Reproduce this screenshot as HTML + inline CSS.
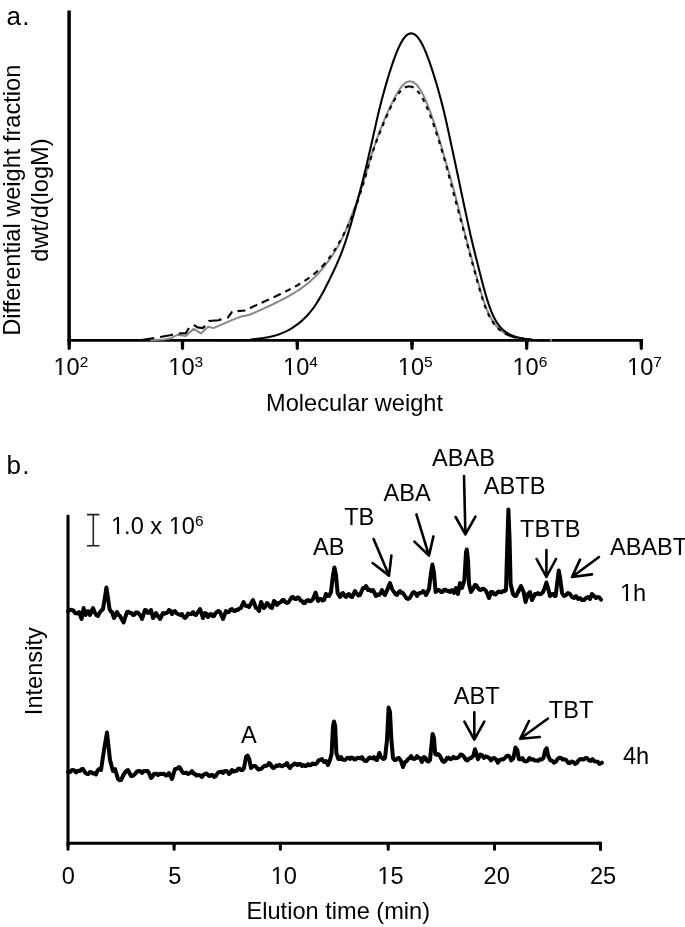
<!DOCTYPE html>
<html><head><meta charset="utf-8"><style>
html,body{margin:0;padding:0;background:#fff;}
svg{display:block;font-family:"Liberation Sans",sans-serif;will-change:transform;}
text{fill:#000;}
</style></head><body>
<svg width="685" height="927" viewBox="0 0 685 927">
<path d="M69.1,10.5 V340.3" stroke="#000" stroke-width="3.5" fill="none"/>
<path d="M67.6,340.3 H642.9" stroke="#000" stroke-width="2.8" fill="none"/>
<path d="M69.2,340.3 V348.3" stroke="#000" stroke-width="3.2" fill="none" stroke-linecap="round"/>
<path d="M69.2,340.3 V345" stroke="#000" stroke-width="3.2" fill="none"/>
<path d="M182.5,340.3 V348.3" stroke="#000" stroke-width="3.2" fill="none" stroke-linecap="round"/>
<path d="M182.5,340.3 V345" stroke="#000" stroke-width="3.2" fill="none"/>
<path d="M297.3,340.3 V348.3" stroke="#000" stroke-width="3.2" fill="none" stroke-linecap="round"/>
<path d="M297.3,340.3 V345" stroke="#000" stroke-width="3.2" fill="none"/>
<path d="M412.0,340.3 V348.3" stroke="#000" stroke-width="3.2" fill="none" stroke-linecap="round"/>
<path d="M412.0,340.3 V345" stroke="#000" stroke-width="3.2" fill="none"/>
<path d="M526.7,340.3 V348.3" stroke="#000" stroke-width="3.2" fill="none" stroke-linecap="round"/>
<path d="M526.7,340.3 V345" stroke="#000" stroke-width="3.2" fill="none"/>
<path d="M641.3,340.3 V348.3" stroke="#000" stroke-width="3.2" fill="none" stroke-linecap="round"/>
<path d="M641.3,340.3 V345" stroke="#000" stroke-width="3.2" fill="none"/>
<path d="M150.00,340.30 L164.00,339.50 L170.00,338.60 L177.90,334.70 L185.80,336.00 L193.70,328.80 L200.90,333.40 L208.10,326.80 L213.40,328.10 L222.60,324.20 L233.10,319.60 L241.00,316.60 L248.81,315.05 L250.34,314.40 L251.86,313.75 L253.37,313.11 L254.87,312.46 L256.36,311.81 L257.83,311.16 L259.30,310.51 L260.76,309.87 L262.20,309.22 L263.63,308.57 L265.06,307.93 L266.47,307.28 L267.87,306.63 L269.26,305.98 L270.63,305.34 L272.00,304.69 L273.35,304.04 L274.69,303.39 L276.01,302.75 L277.32,302.10 L278.62,301.45 L279.90,300.80 L281.17,300.16 L282.42,299.51 L283.66,298.86 L284.88,298.21 L286.08,297.56 L287.26,296.92 L288.43,296.27 L289.58,295.62 L290.71,294.98 L291.82,294.33 L292.92,293.68 L293.99,293.03 L295.05,292.38 L296.08,291.74 L297.10,291.09 L298.10,290.44 L299.07,289.80 L300.03,289.15 L300.97,288.50 L301.89,287.85 L302.79,287.21 L303.68,286.56 L304.54,285.91 L305.39,285.26 L306.22,284.62 L307.03,283.97 L307.83,283.32 L308.61,282.67 L309.37,282.03 L310.12,281.38 L310.86,280.73 L311.58,280.08 L312.28,279.44 L312.98,278.79 L313.66,278.14 L314.33,277.49 L314.99,276.85 L315.63,276.20 L316.27,275.55 L316.89,274.90 L317.51,274.25 L318.11,273.61 L318.71,272.96 L319.30,272.31 L319.87,271.67 L320.44,271.02 L321.01,270.37 L321.56,269.72 L322.11,269.07 L322.65,268.43 L323.18,267.78 L323.71,267.13 L324.23,266.49 L324.74,265.84 L325.25,265.19 L325.75,264.54 L326.24,263.89 L326.73,263.25 L327.22,262.60 L327.70,261.95 L328.17,261.31 L328.64,260.66 L329.10,260.01 L329.56,259.36 L330.02,258.72 L330.47,258.07 L330.91,257.42 L331.35,256.77 L331.79,256.12 L332.22,255.48 L332.65,254.83 L333.08,254.18 L333.50,253.54 L333.91,252.89 L334.33,252.24 L334.73,251.59 L335.14,250.95 L335.54,250.30 L335.93,249.65 L336.33,249.00 L336.71,248.36 L337.10,247.71 L337.47,247.06 L337.85,246.41 L338.22,245.77 L338.58,245.12 L338.95,244.47 L339.30,243.82 L339.65,243.18 L340.00,242.53 L340.35,241.88 L340.68,241.23 L341.02,240.59 L341.35,239.94 L341.68,239.29 L342.00,238.64 L342.31,238.00 L342.63,237.35 L342.94,236.70 L343.24,236.05 L343.54,235.41 L343.84,234.76 L344.14,234.11 L344.43,233.46 L344.72,232.81 L345.00,232.17 L345.28,231.52 L345.56,230.87 L345.84,230.23 L346.11,229.58 L346.38,228.93 L346.65,228.28 L346.92,227.63 L347.18,226.99 L347.45,226.34 L347.71,225.69 L347.97,225.05 L348.23,224.40 L348.49,223.75 L348.74,223.10 L349.00,222.46 L349.26,221.81 L349.51,221.16 L349.76,220.51 L350.01,219.87 L350.27,219.22 L350.52,218.57 L350.77,217.92 L351.02,217.28 L351.27,216.63 L351.52,215.98 L351.76,215.33 L352.01,214.69 L352.26,214.04 L352.50,213.39 L352.75,212.74 L353.00,212.09 L353.24,211.45 L353.48,210.80 L353.73,210.15 L353.97,209.51 L354.21,208.86 L354.45,208.21 L354.69,207.56 L354.93,206.92 L355.17,206.27 L355.41,205.62 L355.65,204.97 L355.89,204.33 L356.12,203.68 L356.36,203.03 L356.59,202.38 L356.82,201.74 L357.05,201.09 L357.28,200.44 L357.51,199.79 L357.74,199.15 L357.97,198.50 L358.20,197.85 L358.42,197.20 L358.65,196.56 L358.87,195.91 L359.09,195.26 L359.31,194.61 L359.53,193.97 L359.75,193.32 L359.97,192.67 L360.19,192.02 L360.40,191.38 L360.62,190.73 L360.83,190.08 L361.04,189.43 L361.25,188.79 L361.46,188.14 L361.67,187.49 L361.88,186.84 L362.09,186.20 L362.29,185.55 L362.50,184.90 L362.70,184.25 L362.91,183.61 L363.11,182.96 L363.31,182.31 L363.51,181.66 L363.71,181.02 L363.91,180.37 L364.11,179.72 L364.30,179.07 L364.50,178.43 L364.70,177.78 L364.89,177.13 L365.09,176.48 L365.28,175.84 L365.48,175.19 L365.67,174.54 L365.87,173.89 L366.06,173.25 L366.26,172.60 L366.45,171.95 L366.64,171.30 L366.83,170.66 L367.03,170.01 L367.22,169.36 L367.41,168.71 L367.61,168.06 L367.80,167.42 L367.99,166.77 L368.19,166.12 L368.38,165.47 L368.58,164.83 L368.77,164.18 L368.96,163.53 L369.16,162.88 L369.36,162.24 L369.55,161.59 L369.75,160.94 L369.94,160.30 L370.14,159.65 L370.34,159.00 L370.54,158.35 L370.74,157.71 L370.94,157.06 L371.14,156.41 L371.34,155.76 L371.54,155.12 L371.74,154.47 L371.94,153.82 L372.15,153.17 L372.35,152.53 L372.56,151.88 L372.77,151.23 L372.97,150.58 L373.18,149.94 L373.39,149.29 L373.60,148.64 L373.81,147.99 L374.03,147.34 L374.24,146.70 L374.46,146.05 L374.67,145.40 L374.89,144.76 L375.11,144.11 L375.33,143.46 L375.55,142.81 L375.77,142.17 L376.00,141.52 L376.22,140.87 L376.45,140.22 L376.68,139.58 L376.91,138.93 L377.14,138.28 L377.37,137.63 L377.61,136.99 L377.84,136.34 L378.08,135.69 L378.32,135.04 L378.56,134.40 L378.80,133.75 L379.04,133.10 L379.29,132.45 L379.54,131.81 L379.78,131.16 L380.03,130.51 L380.28,129.86 L380.53,129.22 L380.79,128.57 L381.04,127.92 L381.30,127.27 L381.56,126.63 L381.82,125.98 L382.08,125.33 L382.34,124.68 L382.61,124.04 L382.87,123.39 L383.14,122.74 L383.41,122.09 L383.68,121.45 L383.95,120.80 L384.22,120.15 L384.50,119.50 L384.78,118.86 L385.05,118.21 L385.33,117.56 L385.61,116.91 L385.90,116.27 L386.18,115.62 L386.47,114.97 L386.75,114.32 L387.04,113.68 L387.33,113.03 L387.63,112.38 L387.92,111.73 L388.21,111.09 L388.51,110.44 L388.81,109.79 L389.11,109.14 L389.41,108.50 L389.71,107.85 L390.02,107.20 L390.33,106.55 L390.63,105.91 L390.94,105.26 L391.26,104.61 L391.57,103.96 L391.89,103.31 L392.21,102.67 L392.53,102.02 L392.85,101.37 L393.17,100.72 L393.50,100.08 L393.83,99.43 L394.17,98.78 L394.50,98.13 L394.85,97.49 L395.19,96.84 L395.54,96.19 L395.89,95.55 L396.25,94.90 L396.61,94.25 L396.98,93.60 L397.36,92.96 L397.74,92.31 L398.13,91.66 L398.54,91.01 L398.95,90.37 L399.37,89.72 L399.80,89.07 L400.26,88.42 L400.73,87.78 L401.22,87.13 L401.73,86.48 L402.27,85.83 L402.86,85.19 L403.49,84.54 L404.18,83.89 L404.97,83.24 L405.89,82.60 L407.10,81.95 L410.00,81.30 L412.82,81.95 L414.00,82.60 L414.90,83.24 L415.66,83.89 L416.33,84.54 L416.94,85.19 L417.50,85.83 L418.02,86.48 L418.52,87.13 L418.98,87.78 L419.43,88.42 L419.85,89.07 L420.26,89.72 L420.66,90.37 L421.04,91.01 L421.41,91.66 L421.77,92.31 L422.12,92.96 L422.46,93.60 L422.79,94.25 L423.12,94.90 L423.44,95.55 L423.75,96.19 L424.06,96.84 L424.36,97.49 L424.66,98.13 L424.95,98.78 L425.23,99.43 L425.52,100.08 L425.80,100.72 L426.07,101.37 L426.35,102.02 L426.62,102.67 L426.88,103.31 L427.15,103.96 L427.41,104.61 L427.67,105.26 L427.93,105.91 L428.18,106.55 L428.43,107.20 L428.68,107.85 L428.93,108.50 L429.18,109.14 L429.42,109.79 L429.67,110.44 L429.91,111.09 L430.15,111.73 L430.39,112.38 L430.63,113.03 L430.86,113.68 L431.10,114.32 L431.33,114.97 L431.56,115.62 L431.79,116.27 L432.02,116.91 L432.25,117.56 L432.48,118.21 L432.70,118.86 L432.93,119.50 L433.15,120.15 L433.37,120.80 L433.59,121.45 L433.81,122.09 L434.03,122.74 L434.25,123.39 L434.46,124.04 L434.67,124.68 L434.89,125.33 L435.10,125.98 L435.31,126.63 L435.52,127.27 L435.73,127.92 L435.94,128.57 L436.14,129.22 L436.35,129.86 L436.55,130.51 L436.75,131.16 L436.95,131.81 L437.16,132.45 L437.36,133.10 L437.55,133.75 L437.75,134.40 L437.95,135.04 L438.15,135.69 L438.34,136.34 L438.54,136.99 L438.73,137.63 L438.92,138.28 L439.12,138.93 L439.31,139.58 L439.50,140.22 L439.69,140.87 L439.89,141.52 L440.08,142.17 L440.27,142.81 L440.46,143.46 L440.65,144.11 L440.84,144.76 L441.03,145.40 L441.21,146.05 L441.40,146.70 L441.59,147.34 L441.78,147.99 L441.97,148.64 L442.16,149.29 L442.35,149.94 L442.53,150.58 L442.72,151.23 L442.91,151.88 L443.10,152.53 L443.29,153.17 L443.48,153.82 L443.66,154.47 L443.85,155.12 L444.04,155.76 L444.23,156.41 L444.42,157.06 L444.60,157.71 L444.79,158.35 L444.98,159.00 L445.17,159.65 L445.36,160.30 L445.55,160.94 L445.73,161.59 L445.92,162.24 L446.11,162.88 L446.30,163.53 L446.49,164.18 L446.68,164.83 L446.87,165.47 L447.06,166.12 L447.24,166.77 L447.43,167.42 L447.62,168.06 L447.81,168.71 L448.00,169.36 L448.19,170.01 L448.38,170.66 L448.57,171.30 L448.76,171.95 L448.94,172.60 L449.13,173.25 L449.32,173.89 L449.51,174.54 L449.69,175.19 L449.88,175.84 L450.07,176.48 L450.25,177.13 L450.44,177.78 L450.62,178.43 L450.81,179.07 L450.99,179.72 L451.18,180.37 L451.36,181.02 L451.54,181.66 L451.72,182.31 L451.90,182.96 L452.08,183.61 L452.26,184.25 L452.44,184.90 L452.62,185.55 L452.80,186.20 L452.97,186.84 L453.15,187.49 L453.32,188.14 L453.50,188.79 L453.67,189.43 L453.84,190.08 L454.02,190.73 L454.19,191.38 L454.36,192.02 L454.53,192.67 L454.70,193.32 L454.87,193.97 L455.03,194.61 L455.20,195.26 L455.37,195.91 L455.54,196.56 L455.70,197.20 L455.87,197.85 L456.03,198.50 L456.20,199.15 L456.36,199.79 L456.53,200.44 L456.69,201.09 L456.85,201.74 L457.02,202.38 L457.18,203.03 L457.34,203.68 L457.51,204.33 L457.67,204.97 L457.83,205.62 L457.99,206.27 L458.16,206.92 L458.32,207.56 L458.48,208.21 L458.64,208.86 L458.81,209.51 L458.97,210.15 L459.13,210.80 L459.29,211.45 L459.45,212.09 L459.62,212.74 L459.78,213.39 L459.94,214.04 L460.10,214.69 L460.27,215.33 L460.43,215.98 L460.59,216.63 L460.75,217.28 L460.92,217.92 L461.08,218.57 L461.24,219.22 L461.41,219.87 L461.57,220.51 L461.73,221.16 L461.90,221.81 L462.06,222.46 L462.23,223.10 L462.39,223.75 L462.55,224.40 L462.72,225.05 L462.88,225.69 L463.05,226.34 L463.21,226.99 L463.38,227.63 L463.55,228.28 L463.71,228.93 L463.88,229.58 L464.04,230.23 L464.21,230.87 L464.38,231.52 L464.55,232.17 L464.71,232.81 L464.88,233.46 L465.05,234.11 L465.22,234.76 L465.39,235.41 L465.55,236.05 L465.72,236.70 L465.89,237.35 L466.06,238.00 L466.23,238.64 L466.40,239.29 L466.57,239.94 L466.75,240.59 L466.92,241.23 L467.09,241.88 L467.26,242.53 L467.43,243.18 L467.61,243.82 L467.78,244.47 L467.95,245.12 L468.13,245.77 L468.30,246.41 L468.47,247.06 L468.65,247.71 L468.82,248.36 L469.00,249.00 L469.17,249.65 L469.35,250.30 L469.52,250.95 L469.70,251.59 L469.87,252.24 L470.05,252.89 L470.23,253.54 L470.40,254.18 L470.58,254.83 L470.76,255.48 L470.93,256.12 L471.11,256.77 L471.29,257.42 L471.46,258.07 L471.64,258.72 L471.82,259.36 L471.99,260.01 L472.17,260.66 L472.35,261.31 L472.52,261.95 L472.70,262.60 L472.88,263.25 L473.05,263.89 L473.23,264.54 L473.41,265.19 L473.58,265.84 L473.76,266.49 L473.94,267.13 L474.11,267.78 L474.29,268.43 L474.47,269.07 L474.64,269.72 L474.82,270.37 L475.00,271.02 L475.17,271.67 L475.35,272.31 L475.53,272.96 L475.71,273.61 L475.88,274.25 L476.06,274.90 L476.24,275.55 L476.42,276.20 L476.60,276.85 L476.77,277.49 L476.95,278.14 L477.13,278.79 L477.31,279.44 L477.49,280.08 L477.67,280.73 L477.85,281.38 L478.03,282.03 L478.22,282.67 L478.40,283.32 L478.58,283.97 L478.76,284.62 L478.95,285.26 L479.13,285.91 L479.31,286.56 L479.50,287.21 L479.69,287.85 L479.87,288.50 L480.06,289.15 L480.25,289.80 L480.44,290.44 L480.63,291.09 L480.82,291.74 L481.01,292.38 L481.21,293.03 L481.40,293.68 L481.60,294.33 L481.79,294.98 L481.99,295.62 L482.19,296.27 L482.40,296.92 L482.60,297.56 L482.81,298.21 L483.02,298.86 L483.23,299.51 L483.44,300.16 L483.66,300.80 L483.88,301.45 L484.10,302.10 L484.33,302.75 L484.55,303.39 L484.78,304.04 L485.02,304.69 L485.26,305.34 L485.50,305.98 L485.74,306.63 L485.99,307.28 L486.25,307.93 L486.50,308.57 L486.77,309.22 L487.03,309.87 L487.31,310.51 L487.58,311.16 L487.87,311.81 L488.16,312.46 L488.45,313.11 L488.75,313.75 L489.06,314.40 L489.37,315.05 L489.70,315.69 L490.03,316.34 L490.36,316.99 L490.71,317.64 L491.07,318.29 L491.43,318.93 L491.81,319.58 L492.20,320.23 L492.60,320.88 L493.01,321.52 L493.43,322.17 L493.88,322.82 L494.33,323.47 L494.81,324.11 L495.30,324.76 L495.82,325.41 L496.36,326.06 L496.92,326.70 L497.52,327.35 L498.14,328.00 L498.80,328.65 L499.49,329.29 L500.23,329.94 L501.02,330.59 L501.86,331.24 L502.77,331.88 L503.74,332.53 L504.80,333.18 L505.96,333.82 L507.24,334.47 L508.66,335.12 L510.26,335.77 L512.09,336.42 L514.23,337.06 L516.80,337.71 L520.05,338.36 L524.49,339.00 L535.00,340.20 L552.00,340.30" stroke="#888" stroke-width="2" fill="none" stroke-linejoin="round"/>
<path d="M409.20,86.30 L406.07,86.94 L404.81,87.55 M400.94,90.69 L400.89,90.75 L400.31,91.38 L399.76,92.02 L399.24,92.65 L398.75,93.28 L398.38,93.77 M395.62,97.93 L395.36,98.37 L394.98,99.00 L394.62,99.64 L394.26,100.27 L393.91,100.91 L393.64,101.41 M391.35,105.85 L391.29,105.99 L390.98,106.62 L390.67,107.26 L390.37,107.89 L390.07,108.53 L389.78,109.16 L389.63,109.47 M387.58,114.02 L387.49,114.24 L387.21,114.88 L386.93,115.51 L386.66,116.15 L386.38,116.78 L386.11,117.42 L385.99,117.69 M384.04,122.30 L383.95,122.50 L383.69,123.13 L383.42,123.77 L383.16,124.40 L382.89,125.03 L382.63,125.67 L382.49,125.99 M380.59,130.61 L380.54,130.75 L380.28,131.39 L380.02,132.02 L379.77,132.66 L379.51,133.29 L379.26,133.93 L379.10,134.32 M377.29,138.98 L377.28,139.01 L377.04,139.64 L376.80,140.28 L376.56,140.91 L376.33,141.55 L376.10,142.18 L375.90,142.73 M374.24,147.45 L374.08,147.90 L373.87,148.53 L373.66,149.17 L373.45,149.80 L373.24,150.44 L373.03,151.07 L372.97,151.24 M371.46,156.01 L371.42,156.15 L371.22,156.78 L371.03,157.42 L370.84,158.06 L370.64,158.69 L370.45,159.33 L370.30,159.84 M368.87,164.63 L368.75,165.04 L368.57,165.68 L368.38,166.31 L368.20,166.95 L368.01,167.58 L367.83,168.22 L367.75,168.47 M366.35,173.27 L366.35,173.30 L366.16,173.93 L365.98,174.57 L365.79,175.20 L365.61,175.84 L365.42,176.47 L365.23,177.11 L365.23,177.11 M363.81,181.90 L363.73,182.19 L363.54,182.82 L363.35,183.46 L363.15,184.09 L362.96,184.72 L362.77,185.36 L362.65,185.73 M361.17,190.51 L360.99,191.08 L360.79,191.71 L360.59,192.34 L360.39,192.98 L360.18,193.62 L359.98,194.25 L359.96,194.32 M358.41,199.07 L358.32,199.33 L358.11,199.97 L357.90,200.60 L357.69,201.24 L357.48,201.87 L357.26,202.51 L357.14,202.87 M355.51,207.59 L355.28,208.22 L355.06,208.86 L354.83,209.49 L354.59,210.13 L354.36,210.76 L354.14,211.35 M352.32,216.01 L352.13,216.48 L351.87,217.11 L351.61,217.75 L351.34,218.38 L351.07,219.02 L350.79,219.65 L350.77,219.70 M348.71,224.25 L348.48,224.73 L348.18,225.37 L347.88,226.00 L347.57,226.63 L347.26,227.27 L346.97,227.85 M344.71,232.31 L344.69,232.35 L344.36,232.99 L344.03,233.62 L343.70,234.25 L343.36,234.89 L343.02,235.53 L342.85,235.85 M340.45,240.24 L340.25,240.61 L339.89,241.24 L339.53,241.88 L339.17,242.51 L338.80,243.15 L338.47,243.72 M335.91,248.01 L335.78,248.23 L335.39,248.86 L334.99,249.50 L334.59,250.13 L334.18,250.77 L333.78,251.39 M330.98,255.54 L330.76,255.85 L330.31,256.48 L329.85,257.12 L329.38,257.75 L328.91,258.38 L328.62,258.77 M325.51,262.68 L325.38,262.83 L324.84,263.47 L324.29,264.10 L323.73,264.74 L323.16,265.37 L322.57,266.00 L321.98,266.64 L321.50,267.14 M317.93,270.64 L317.45,271.09 L316.75,271.72 L316.02,272.36 L315.29,272.99 L314.53,273.62 L313.76,274.26 L313.39,274.56 M309.41,277.59 L308.74,278.07 L307.84,278.71 L306.92,279.34 L305.97,279.98 L305.01,280.61 L304.45,280.97 M300.20,283.61 L299.91,283.79 L298.83,284.42 L297.73,285.06 L296.61,285.69 L295.48,286.32 L295.00,286.59 M290.59,288.95 L289.54,289.50 L288.31,290.13 L287.06,290.77 L285.80,291.41 L285.25,291.68 M280.76,293.88 L280.62,293.94 L279.30,294.58 L277.96,295.22 L276.62,295.85 L275.27,296.49 L273.91,297.12 L273.53,297.30 M268.99,299.40 L268.42,299.66 L267.04,300.30 L265.65,300.93 L264.26,301.56 L262.87,302.20 L261.71,302.73 M257.16,304.80 L255.90,305.38 L254.50,306.01 L253.11,306.64 L251.72,307.28 L250.33,307.92 L249.88,308.12 M245.34,310.20 L244.77,310.46 L237.42,311.08 M232.54,312.11 L231.80,312.30 L227.80,317.60 L227.21,317.69 M221.42,319.13 L218.60,320.20 L208.80,321.00 L208.71,321.12 M205.09,325.90 L202.80,328.10 L197.60,327.40 L193.79,324.86 M188.96,328.00 L185.80,333.10 L178.81,333.54 M172.92,334.67 L170.00,335.30 L160.13,336.98 M154.21,337.96 L148.00,339.00 L141.39,340.07 M409.20,86.30 L412.23,86.94 L413.48,87.57 L413.57,87.62 M417.35,90.87 L417.80,91.38 L418.32,92.02 L418.82,92.65 L419.30,93.28 L419.75,93.92 L419.81,94.01 M422.46,98.26 L422.52,98.37 L422.87,99.00 L423.22,99.64 L423.55,100.27 L423.88,100.91 L424.20,101.54 L424.33,101.79 M426.46,106.31 L426.59,106.62 L426.87,107.26 L427.15,107.89 L427.42,108.53 L427.69,109.16 L427.96,109.80 L428.04,109.99 M429.90,114.63 L429.99,114.88 L430.23,115.51 L430.48,116.15 L430.72,116.78 L430.96,117.42 L431.19,118.05 L431.31,118.37 M433.02,123.07 L433.04,123.13 L433.26,123.77 L433.48,124.40 L433.71,125.03 L433.93,125.67 L434.15,126.31 L434.34,126.85 M435.94,131.58 L436.08,132.02 L436.29,132.66 L436.50,133.29 L436.71,133.93 L436.92,134.56 L437.13,135.20 L437.19,135.38 M438.72,140.14 L438.76,140.28 L438.96,140.91 L439.16,141.55 L439.36,142.18 L439.56,142.82 L439.76,143.45 L439.92,143.96 M441.38,148.74 L441.51,149.17 L441.70,149.80 L441.90,150.44 L442.09,151.07 L442.28,151.71 L442.46,152.34 L442.53,152.57 M443.94,157.37 L443.95,157.42 L444.13,158.06 L444.32,158.69 L444.50,159.33 L444.68,159.96 L444.86,160.59 L445.03,161.22 M446.36,166.04 L446.44,166.31 L446.61,166.95 L446.78,167.58 L446.95,168.22 L447.12,168.85 L447.29,169.49 L447.40,169.90 M448.68,174.73 L448.80,175.20 L448.97,175.84 L449.13,176.47 L449.30,177.11 L449.47,177.74 L449.63,178.38 L449.69,178.60 M450.96,183.44 L450.97,183.46 L451.14,184.09 L451.30,184.72 L451.47,185.36 L451.64,186.00 L451.81,186.63 L451.98,187.27 L451.99,187.31 M453.29,192.13 L453.35,192.34 L453.52,192.98 L453.69,193.62 L453.86,194.25 L454.03,194.89 L454.20,195.52 L454.33,196.00 M455.64,200.82 L455.75,201.24 L455.92,201.87 L456.09,202.51 L456.26,203.14 L456.43,203.78 L456.60,204.41 L456.68,204.68 M457.97,209.52 L458.13,210.13 L458.30,210.76 L458.47,211.40 L458.64,212.03 L458.80,212.67 L458.97,213.30 L458.99,213.38 M460.28,218.21 L460.33,218.38 L460.49,219.02 L460.66,219.65 L460.83,220.29 L461.00,220.92 L461.17,221.56 L461.31,222.08 M462.60,226.91 L462.70,227.27 L462.87,227.91 L463.04,228.54 L463.21,229.18 L463.38,229.81 L463.55,230.44 L463.64,230.77 M464.93,235.60 L465.08,236.16 L465.25,236.80 L465.42,237.43 L465.59,238.06 L465.75,238.70 L465.92,239.34 L465.96,239.47 M467.25,244.30 L467.28,244.42 L467.45,245.05 L467.62,245.69 L467.79,246.32 L467.96,246.96 L468.14,247.59 L468.29,248.16 M469.60,252.99 L469.68,253.31 L469.86,253.94 L470.03,254.57 L470.20,255.21 L470.38,255.85 L470.55,256.48 L470.65,256.85 M471.97,261.67 L472.11,262.19 L472.29,262.83 L472.46,263.47 L472.63,264.10 L472.81,264.74 L472.98,265.37 L473.02,265.53 M474.34,270.35 L474.37,270.45 L474.54,271.09 L474.71,271.72 L474.89,272.36 L475.06,272.99 L475.23,273.62 L475.39,274.21 M476.72,279.03 L476.81,279.34 L476.98,279.98 L477.16,280.61 L477.34,281.25 L477.51,281.88 L477.69,282.51 L477.79,282.88 M479.15,287.70 L479.30,288.23 L479.48,288.87 L479.67,289.50 L479.85,290.13 L480.04,290.77 L480.22,291.41 L480.26,291.54 M481.70,296.33 L481.75,296.49 L481.94,297.12 L482.14,297.75 L482.34,298.39 L482.54,299.03 L482.75,299.66 L482.91,300.14 M484.53,304.87 L484.71,305.38 L484.94,306.01 L485.18,306.64 L485.42,307.28 L485.67,307.92 L485.92,308.55 L485.94,308.61 M487.90,313.21 L488.09,313.63 L488.39,314.26 L488.70,314.90 L489.01,315.54 L489.33,316.17 L489.66,316.80 M492.16,321.13 L492.24,321.25 L492.65,321.88 L493.08,322.52 L493.53,323.16 L493.99,323.79 L494.46,324.40 M497.77,328.15 L497.86,328.24 L498.53,328.87 L499.23,329.50 L499.98,330.14 L500.78,330.77 M504.97,333.50 L505.80,333.95 L507.09,334.59 L508.53,335.22 L510.15,335.86 L511.99,336.49 L514.15,337.12 L516.19,337.62 M521.10,338.55 L524.50,339.03 L533.02,339.98 M538.01,340.23 L545.00,340.30" stroke="#000" stroke-width="2.15" fill="none" stroke-linecap="butt"/>
<path d="M215.00,340.30 L240.00,340.20 L250.00,339.70 L257.33,338.76 L263.36,338.00 L267.80,337.23 L271.35,336.46 L274.33,335.69 L276.92,334.93 L279.21,334.16 L281.27,333.39 L283.15,332.62 L284.89,331.86 L286.50,331.09 L288.01,330.32 L289.43,329.56 L290.78,328.79 L292.06,328.02 L293.27,327.25 L294.43,326.49 L295.55,325.72 L296.62,324.95 L297.65,324.18 L298.64,323.42 L299.60,322.65 L300.52,321.88 L301.41,321.11 L302.28,320.35 L303.12,319.58 L303.93,318.81 L304.72,318.04 L305.49,317.28 L306.24,316.51 L306.97,315.74 L307.67,314.97 L308.36,314.20 L309.03,313.44 L309.68,312.67 L310.32,311.90 L310.94,311.13 L311.55,310.37 L312.14,309.60 L312.72,308.83 L313.29,308.06 L313.84,307.30 L314.39,306.53 L314.92,305.76 L315.44,305.00 L315.95,304.23 L316.46,303.46 L316.95,302.69 L317.43,301.93 L317.91,301.16 L318.38,300.39 L318.85,299.62 L319.30,298.86 L319.75,298.09 L320.20,297.32 L320.64,296.55 L321.07,295.79 L321.50,295.02 L321.92,294.25 L322.34,293.48 L322.76,292.72 L323.17,291.95 L323.58,291.18 L323.99,290.41 L324.39,289.64 L324.80,288.88 L325.19,288.11 L325.59,287.34 L325.98,286.58 L326.38,285.81 L326.77,285.04 L327.16,284.27 L327.54,283.50 L327.93,282.74 L328.31,281.97 L328.69,281.20 L329.07,280.44 L329.45,279.67 L329.83,278.90 L330.21,278.13 L330.58,277.37 L330.96,276.60 L331.33,275.83 L331.70,275.06 L332.07,274.30 L332.44,273.53 L332.80,272.76 L333.17,271.99 L333.53,271.23 L333.89,270.46 L334.25,269.69 L334.60,268.92 L334.96,268.16 L335.31,267.39 L335.66,266.62 L336.01,265.85 L336.35,265.09 L336.70,264.32 L337.04,263.55 L337.37,262.78 L337.71,262.01 L338.04,261.25 L338.37,260.48 L338.70,259.71 L339.02,258.94 L339.34,258.18 L339.66,257.41 L339.97,256.64 L340.28,255.88 L340.59,255.11 L340.90,254.34 L341.20,253.57 L341.50,252.81 L341.80,252.04 L342.09,251.27 L342.38,250.50 L342.66,249.74 L342.95,248.97 L343.23,248.20 L343.51,247.43 L343.78,246.67 L344.05,245.90 L344.32,245.13 L344.59,244.36 L344.85,243.60 L345.11,242.83 L345.37,242.06 L345.63,241.29 L345.88,240.53 L346.13,239.76 L346.38,238.99 L346.63,238.22 L346.87,237.45 L347.12,236.69 L347.36,235.92 L347.60,235.15 L347.84,234.39 L348.07,233.62 L348.31,232.85 L348.54,232.08 L348.77,231.31 L349.00,230.55 L349.23,229.78 L349.46,229.01 L349.68,228.25 L349.91,227.48 L350.14,226.71 L350.36,225.94 L350.58,225.18 L350.80,224.41 L351.03,223.64 L351.25,222.87 L351.47,222.11 L351.69,221.34 L351.90,220.57 L352.12,219.80 L352.34,219.04 L352.56,218.27 L352.77,217.50 L352.99,216.73 L353.21,215.97 L353.42,215.20 L353.64,214.43 L353.85,213.66 L354.07,212.90 L354.28,212.13 L354.50,211.36 L354.71,210.59 L354.93,209.83 L355.14,209.06 L355.36,208.29 L355.57,207.52 L355.78,206.76 L356.00,205.99 L356.21,205.22 L356.42,204.45 L356.63,203.69 L356.85,202.92 L357.06,202.15 L357.27,201.38 L357.48,200.62 L357.69,199.85 L357.90,199.08 L358.11,198.31 L358.32,197.55 L358.53,196.78 L358.73,196.01 L358.94,195.24 L359.15,194.48 L359.35,193.71 L359.56,192.94 L359.76,192.17 L359.97,191.41 L360.17,190.64 L360.37,189.87 L360.57,189.10 L360.78,188.34 L360.98,187.57 L361.17,186.80 L361.37,186.03 L361.57,185.27 L361.77,184.50 L361.96,183.73 L362.16,182.96 L362.35,182.19 L362.55,181.43 L362.74,180.66 L362.93,179.89 L363.13,179.12 L363.32,178.36 L363.51,177.59 L363.70,176.82 L363.89,176.06 L364.08,175.29 L364.27,174.52 L364.45,173.75 L364.64,172.98 L364.83,172.22 L365.01,171.45 L365.20,170.68 L365.38,169.91 L365.57,169.15 L365.75,168.38 L365.94,167.61 L366.12,166.85 L366.31,166.08 L366.49,165.31 L366.67,164.54 L366.85,163.78 L367.04,163.01 L367.22,162.24 L367.40,161.47 L367.58,160.71 L367.76,159.94 L367.94,159.17 L368.12,158.40 L368.30,157.64 L368.48,156.87 L368.66,156.10 L368.84,155.33 L369.02,154.57 L369.20,153.80 L369.38,153.03 L369.56,152.26 L369.73,151.50 L369.91,150.73 L370.09,149.96 L370.26,149.19 L370.44,148.43 L370.62,147.66 L370.79,146.89 L370.97,146.12 L371.14,145.36 L371.31,144.59 L371.49,143.82 L371.66,143.05 L371.83,142.28 L372.01,141.52 L372.18,140.75 L372.35,139.98 L372.52,139.22 L372.69,138.45 L372.86,137.68 L373.03,136.91 L373.21,136.15 L373.38,135.38 L373.55,134.61 L373.72,133.84 L373.89,133.07 L374.06,132.31 L374.23,131.54 L374.40,130.77 L374.57,130.00 L374.74,129.24 L374.91,128.47 L375.08,127.70 L375.25,126.94 L375.42,126.17 L375.59,125.40 L375.76,124.63 L375.94,123.87 L376.11,123.10 L376.28,122.33 L376.46,121.56 L376.63,120.80 L376.81,120.03 L376.98,119.26 L377.16,118.49 L377.34,117.73 L377.52,116.96 L377.70,116.19 L377.88,115.42 L378.06,114.66 L378.24,113.89 L378.43,113.12 L378.61,112.35 L378.80,111.59 L378.98,110.82 L379.17,110.05 L379.36,109.28 L379.55,108.52 L379.74,107.75 L379.93,106.98 L380.12,106.21 L380.31,105.44 L380.51,104.68 L380.71,103.91 L380.90,103.14 L381.10,102.38 L381.30,101.61 L381.50,100.84 L381.70,100.07 L381.90,99.31 L382.10,98.54 L382.31,97.77 L382.51,97.00 L382.72,96.23 L382.92,95.47 L383.13,94.70 L383.34,93.93 L383.55,93.16 L383.76,92.40 L383.97,91.63 L384.18,90.86 L384.40,90.10 L384.61,89.33 L384.83,88.56 L385.04,87.79 L385.26,87.03 L385.48,86.26 L385.70,85.49 L385.92,84.72 L386.14,83.96 L386.36,83.19 L386.59,82.42 L386.81,81.65 L387.04,80.89 L387.27,80.12 L387.50,79.35 L387.73,78.58 L387.96,77.81 L388.19,77.05 L388.42,76.28 L388.66,75.51 L388.89,74.75 L389.13,73.98 L389.37,73.21 L389.61,72.44 L389.85,71.68 L390.10,70.91 L390.34,70.14 L390.59,69.37 L390.84,68.61 L391.09,67.84 L391.34,67.07 L391.60,66.30 L391.85,65.54 L392.11,64.77 L392.37,64.00 L392.63,63.23 L392.90,62.46 L393.17,61.70 L393.43,60.93 L393.71,60.16 L393.98,59.39 L394.26,58.63 L394.54,57.86 L394.82,57.09 L395.11,56.32 L395.40,55.56 L395.70,54.79 L396.00,54.02 L396.30,53.25 L396.61,52.49 L396.92,51.72 L397.24,50.95 L397.56,50.19 L397.89,49.42 L398.22,48.65 L398.57,47.88 L398.92,47.12 L399.27,46.35 L399.64,45.58 L400.02,44.81 L400.41,44.05 L400.81,43.28 L401.22,42.51 L401.65,41.74 L402.10,40.98 L402.57,40.21 L403.07,39.44 L403.59,38.67 L404.16,37.91 L404.77,37.14 L405.44,36.37 L406.20,35.60 L407.10,34.84 L408.28,34.07 L411.10,33.30 L413.99,34.07 L415.19,34.84 L416.11,35.60 L416.89,36.37 L417.58,37.14 L418.20,37.91 L418.78,38.67 L419.31,39.44 L419.82,40.21 L420.30,40.98 L420.76,41.74 L421.20,42.51 L421.62,43.28 L422.03,44.05 L422.42,44.81 L422.81,45.58 L423.18,46.35 L423.54,47.12 L423.90,47.88 L424.25,48.65 L424.59,49.42 L424.92,50.19 L425.25,50.95 L425.57,51.72 L425.89,52.49 L426.20,53.25 L426.51,54.02 L426.81,54.79 L427.11,55.56 L427.40,56.32 L427.70,57.09 L427.98,57.86 L428.27,58.63 L428.55,59.39 L428.83,60.16 L429.10,60.93 L429.38,61.70 L429.65,62.46 L429.92,63.23 L430.18,64.00 L430.45,64.77 L430.71,65.54 L430.97,66.30 L431.23,67.07 L431.48,67.84 L431.74,68.61 L431.99,69.37 L432.24,70.14 L432.49,70.91 L432.74,71.68 L432.99,72.44 L433.23,73.21 L433.47,73.98 L433.72,74.75 L433.96,75.51 L434.19,76.28 L434.43,77.05 L434.67,77.81 L434.90,78.58 L435.14,79.35 L435.37,80.12 L435.60,80.89 L435.83,81.65 L436.06,82.42 L436.29,83.19 L436.52,83.96 L436.74,84.72 L436.97,85.49 L437.19,86.26 L437.41,87.03 L437.63,87.79 L437.85,88.56 L438.07,89.33 L438.29,90.10 L438.50,90.86 L438.72,91.63 L438.93,92.40 L439.14,93.16 L439.36,93.93 L439.57,94.70 L439.78,95.47 L439.98,96.23 L440.19,97.00 L440.40,97.77 L440.60,98.54 L440.81,99.31 L441.01,100.07 L441.21,100.84 L441.41,101.61 L441.61,102.38 L441.81,103.14 L442.01,103.91 L442.21,104.68 L442.40,105.44 L442.60,106.21 L442.79,106.98 L442.98,107.75 L443.17,108.52 L443.36,109.28 L443.55,110.05 L443.74,110.82 L443.92,111.59 L444.11,112.35 L444.29,113.12 L444.48,113.89 L444.66,114.66 L444.84,115.42 L445.02,116.19 L445.20,116.96 L445.38,117.73 L445.55,118.49 L445.73,119.26 L445.90,120.03 L446.08,120.80 L446.25,121.56 L446.42,122.33 L446.59,123.10 L446.77,123.87 L446.94,124.63 L447.11,125.40 L447.27,126.17 L447.44,126.94 L447.61,127.70 L447.78,128.47 L447.95,129.24 L448.11,130.00 L448.28,130.77 L448.44,131.54 L448.61,132.31 L448.78,133.07 L448.94,133.84 L449.11,134.61 L449.27,135.38 L449.44,136.15 L449.60,136.91 L449.76,137.68 L449.93,138.45 L450.09,139.22 L450.26,139.98 L450.42,140.75 L450.58,141.52 L450.75,142.28 L450.91,143.05 L451.08,143.82 L451.24,144.59 L451.40,145.36 L451.57,146.12 L451.73,146.89 L451.90,147.66 L452.06,148.43 L452.23,149.19 L452.39,149.96 L452.55,150.73 L452.72,151.50 L452.88,152.26 L453.05,153.03 L453.21,153.80 L453.38,154.57 L453.54,155.33 L453.71,156.10 L453.87,156.87 L454.04,157.64 L454.20,158.40 L454.36,159.17 L454.53,159.94 L454.69,160.71 L454.86,161.47 L455.02,162.24 L455.19,163.01 L455.35,163.78 L455.52,164.54 L455.68,165.31 L455.84,166.08 L456.01,166.85 L456.17,167.61 L456.34,168.38 L456.50,169.15 L456.66,169.91 L456.83,170.68 L456.99,171.45 L457.15,172.22 L457.31,172.98 L457.48,173.75 L457.64,174.52 L457.80,175.29 L457.96,176.06 L458.12,176.82 L458.29,177.59 L458.45,178.36 L458.61,179.12 L458.77,179.89 L458.93,180.66 L459.09,181.43 L459.25,182.19 L459.41,182.96 L459.57,183.73 L459.73,184.50 L459.89,185.27 L460.05,186.03 L460.21,186.80 L460.37,187.57 L460.53,188.34 L460.69,189.10 L460.85,189.87 L461.01,190.64 L461.17,191.41 L461.33,192.17 L461.49,192.94 L461.65,193.71 L461.82,194.48 L461.98,195.24 L462.14,196.01 L462.30,196.78 L462.46,197.55 L462.62,198.31 L462.79,199.08 L462.95,199.85 L463.11,200.62 L463.28,201.38 L463.44,202.15 L463.60,202.92 L463.77,203.69 L463.93,204.45 L464.10,205.22 L464.26,205.99 L464.42,206.76 L464.59,207.52 L464.75,208.29 L464.92,209.06 L465.08,209.83 L465.25,210.59 L465.41,211.36 L465.58,212.13 L465.74,212.90 L465.90,213.66 L466.07,214.43 L466.23,215.20 L466.40,215.97 L466.56,216.73 L466.73,217.50 L466.89,218.27 L467.05,219.04 L467.22,219.80 L467.38,220.57 L467.55,221.34 L467.71,222.11 L467.88,222.87 L468.04,223.64 L468.21,224.41 L468.37,225.18 L468.54,225.94 L468.70,226.71 L468.87,227.48 L469.04,228.25 L469.21,229.01 L469.38,229.78 L469.54,230.55 L469.71,231.31 L469.89,232.08 L470.06,232.85 L470.23,233.62 L470.40,234.39 L470.58,235.15 L470.75,235.92 L470.93,236.69 L471.10,237.45 L471.28,238.22 L471.46,238.99 L471.64,239.76 L471.82,240.53 L472.00,241.29 L472.18,242.06 L472.36,242.83 L472.55,243.60 L472.73,244.36 L472.92,245.13 L473.10,245.90 L473.29,246.67 L473.48,247.43 L473.67,248.20 L473.86,248.97 L474.05,249.74 L474.24,250.50 L474.43,251.27 L474.62,252.04 L474.81,252.81 L475.01,253.57 L475.20,254.34 L475.39,255.11 L475.59,255.88 L475.78,256.64 L475.97,257.41 L476.17,258.18 L476.36,258.94 L476.55,259.71 L476.75,260.48 L476.94,261.25 L477.14,262.01 L477.33,262.78 L477.52,263.55 L477.72,264.32 L477.91,265.09 L478.10,265.85 L478.30,266.62 L478.49,267.39 L478.68,268.16 L478.87,268.92 L479.07,269.69 L479.26,270.46 L479.45,271.23 L479.65,271.99 L479.84,272.76 L480.03,273.53 L480.22,274.30 L480.42,275.06 L480.61,275.83 L480.81,276.60 L481.00,277.37 L481.20,278.13 L481.39,278.90 L481.59,279.67 L481.79,280.44 L481.99,281.20 L482.19,281.97 L482.39,282.74 L482.59,283.50 L482.79,284.27 L482.99,285.04 L483.20,285.81 L483.40,286.58 L483.61,287.34 L483.82,288.11 L484.03,288.88 L484.24,289.64 L484.46,290.41 L484.67,291.18 L484.89,291.95 L485.11,292.72 L485.33,293.48 L485.55,294.25 L485.78,295.02 L486.00,295.79 L486.23,296.55 L486.47,297.32 L486.70,298.09 L486.94,298.86 L487.18,299.62 L487.42,300.39 L487.67,301.16 L487.92,301.93 L488.17,302.69 L488.42,303.46 L488.68,304.23 L488.95,305.00 L489.21,305.76 L489.49,306.53 L489.76,307.30 L490.04,308.06 L490.33,308.83 L490.62,309.60 L490.91,310.37 L491.22,311.13 L491.52,311.90 L491.84,312.67 L492.16,313.44 L492.50,314.20 L492.84,314.97 L493.18,315.74 L493.54,316.51 L493.92,317.28 L494.30,318.04 L494.69,318.81 L495.10,319.58 L495.53,320.35 L495.97,321.11 L496.44,321.88 L496.92,322.65 L497.43,323.42 L497.96,324.18 L498.52,324.95 L499.11,325.72 L499.73,326.49 L500.40,327.25 L501.10,328.02 L501.86,328.79 L502.67,329.56 L503.54,330.32 L504.49,331.09 L505.52,331.86 L506.65,332.62 L507.90,333.39 L509.29,334.16 L510.87,334.93 L512.67,335.69 L514.78,336.46 L517.33,337.23 L520.55,338.00 L524.96,338.76 L535.00,340.20 L550.00,340.30" stroke="#000" stroke-width="2.1" fill="none" stroke-linejoin="round"/>
<text x="53.5" y="374.6" font-size="23.6">10<tspan font-size="15.5" dy="-8">2</tspan></text>
<text x="168.3" y="374.6" font-size="23.6">10<tspan font-size="15.5" dy="-8">3</tspan></text>
<text x="283.1" y="374.6" font-size="23.6">10<tspan font-size="15.5" dy="-8">4</tspan></text>
<text x="397.8" y="374.6" font-size="23.6">10<tspan font-size="15.5" dy="-8">5</tspan></text>
<text x="512.5" y="374.6" font-size="23.6">10<tspan font-size="15.5" dy="-8">6</tspan></text>
<text x="627.1" y="374.6" font-size="23.6">10<tspan font-size="15.5" dy="-8">7</tspan></text>
<text x="266" y="410.6" font-size="23.6" text-anchor="start" >Molecular weight</text>
<text x="6.5" y="25" font-size="26" text-anchor="start" letter-spacing="1.3">a.</text>
<text transform="translate(20,200.2) rotate(-90)" font-size="23.6" text-anchor="middle">Differential weight fraction</text>
<text transform="translate(48,200) rotate(-90)" font-size="23.6" text-anchor="middle">dwt/d(logM)</text>
<path d="M68,516 V843.3" stroke="#000" stroke-width="3.1" fill="none" stroke-linecap="round"/>
<path d="M67,843.3 H600.5" stroke="#000" stroke-width="2.9" fill="none"/>
<path d="M68.0,843.3 V849.3" stroke="#000" stroke-width="3" fill="none" stroke-linecap="round"/>
<path d="M68.0,843.3 V846" stroke="#000" stroke-width="3" fill="none"/>
<text x="68.4" y="883.5" font-size="23.6" text-anchor="middle" >0</text>
<path d="M174.1,843.3 V849.3" stroke="#000" stroke-width="3" fill="none" stroke-linecap="round"/>
<path d="M174.1,843.3 V846" stroke="#000" stroke-width="3" fill="none"/>
<text x="174.7" y="883.5" font-size="23.6" text-anchor="middle" >5</text>
<path d="M280.4,843.3 V849.3" stroke="#000" stroke-width="3" fill="none" stroke-linecap="round"/>
<path d="M280.4,843.3 V846" stroke="#000" stroke-width="3" fill="none"/>
<text x="283.8" y="883.5" font-size="23.6" text-anchor="middle" >10</text>
<path d="M388.2,843.3 V849.3" stroke="#000" stroke-width="3" fill="none" stroke-linecap="round"/>
<path d="M388.2,843.3 V846" stroke="#000" stroke-width="3" fill="none"/>
<text x="390.6" y="883.5" font-size="23.6" text-anchor="middle" >15</text>
<path d="M494.5,843.3 V849.3" stroke="#000" stroke-width="3" fill="none" stroke-linecap="round"/>
<path d="M494.5,843.3 V846" stroke="#000" stroke-width="3" fill="none"/>
<text x="496.7" y="883.5" font-size="23.6" text-anchor="middle" >20</text>
<path d="M600.5,843.3 V849.3" stroke="#000" stroke-width="3" fill="none" stroke-linecap="round"/>
<path d="M600.5,843.3 V846" stroke="#000" stroke-width="3" fill="none"/>
<text x="603.1" y="883.5" font-size="23.6" text-anchor="middle" >25</text>
<path d="M600.5,843.3 L600.5,849.3" stroke="#000" stroke-width="3" fill="none" stroke-linecap="round"/>
<path d="M598,843.3 L600.5,843.3" stroke="#000" stroke-width="2.9" fill="none" stroke-linecap="round" stroke-linejoin="round"/>
<text x="246.5" y="919" font-size="23.6" text-anchor="start" >Elution time (min)</text>
<text transform="translate(42,671.2) rotate(-90)" font-size="23.6" text-anchor="middle">Intensity</text>
<text x="6.5" y="474" font-size="26" text-anchor="start" letter-spacing="1.3">b.</text>
<path d="M87,514.6 H99.4 M93.3,514.6 V545.8 M87,545.8 H99.4" stroke="#222" stroke-width="1.6" fill="none"/>
<text x="111" y="534" font-size="23.6">1.0 x 10<tspan font-size="15.5" dy="-7.6">6</tspan></text>
<path d="M68.00,611.40 L70.00,609.78 L72.00,610.00 L73.50,610.68 L75.00,613.00 L77.00,613.44 L79.00,612.00 L81.60,619.00 L83.60,608.00 L85.60,615.00 L86.80,612.07 L88.00,611.00 L90.00,615.00 L93.00,608.00 L95.00,613.00 L96.50,615.27 L98.00,616.00 L99.50,612.76 L101.00,611.00 L103.00,609.00 L104.80,598.00 L106.40,587.50 L108.00,598.00 L109.50,609.00 L110.75,611.40 L112.00,612.00 L114.00,618.00 L117.00,612.00 L118.50,614.83 L120.00,616.00 L123.60,622.40 L127.00,612.00 L128.50,611.74 L130.00,613.00 L131.50,612.96 L133.00,615.00 L134.50,614.69 L136.00,612.40 L137.50,612.47 L139.00,614.00 L140.50,615.71 L142.00,619.00 L145.00,610.00 L146.50,610.48 L148.00,613.00 L149.50,612.37 L151.00,610.00 L153.00,618.00 L154.50,616.47 L156.00,613.00 L160.00,619.00 L163.00,613.00 L164.50,613.83 L166.00,613.00 L167.50,612.58 L169.00,610.00 L170.50,610.95 L172.00,614.00 L173.50,611.82 L175.00,611.00 L176.50,613.26 L178.00,614.00 L180.00,615.00 L182.00,614.00 L183.50,616.85 L185.00,618.00 L186.50,616.71 L188.00,613.60 L190.00,614.00 L191.50,613.92 L193.00,612.00 L194.50,614.46 L196.00,615.00 L200.00,609.00 L203.00,618.00 L205.00,613.00 L206.50,613.96 L208.00,617.00 L209.50,614.53 L211.00,614.00 L212.50,616.08 L214.00,616.00 L215.50,613.03 L217.00,612.00 L218.50,611.06 L220.00,612.00 L223.00,619.00 L226.00,611.00 L227.50,612.29 L229.00,612.00 L230.50,609.63 L232.00,609.00 L233.50,610.70 L235.00,611.00 L236.50,609.66 L238.00,610.00 L239.50,608.33 L241.00,608.00 L243.60,602.00 L244.80,605.00 L246.00,606.00 L247.50,605.82 L249.00,607.00 L253.00,600.00 L256.00,608.00 L257.50,608.67 L259.00,611.00 L261.00,602.00 L264.00,608.00 L265.50,606.40 L267.00,603.00 L269.00,605.00 L270.50,607.38 L272.00,608.00 L274.00,601.00 L275.50,602.20 L277.00,605.00 L279.00,602.79 L281.00,602.00 L282.50,599.92 L284.00,600.00 L285.50,602.29 L287.00,603.00 L288.50,602.23 L290.00,600.00 L291.50,597.41 L293.00,597.00 L294.50,598.80 L296.00,599.00 L297.50,597.45 L299.00,598.00 L300.50,600.33 L302.00,601.00 L303.50,602.94 L305.00,603.00 L306.50,600.57 L308.00,600.00 L309.50,601.35 L311.00,601.00 L313.00,599.00 L315.60,592.60 L318.00,601.00 L319.50,598.93 L321.00,599.00 L322.50,600.59 L324.00,600.00 L326.00,594.00 L327.50,595.90 L329.00,596.00 L331.00,592.00 L333.00,575.00 L334.40,567.50 L336.00,575.00 L337.60,593.00 L340.00,597.00 L341.50,593.99 L343.00,593.00 L344.50,595.67 L346.00,597.00 L347.50,594.81 L349.00,594.00 L350.50,596.37 L352.00,597.00 L355.00,591.00 L357.00,594.00 L358.50,595.43 L360.00,595.00 L363.00,588.00 L364.50,587.98 L366.00,586.00 L368.00,590.00 L369.50,589.58 L371.00,591.00 L373.00,590.00 L376.00,596.00 L377.50,594.42 L379.00,595.00 L380.50,593.44 L382.00,590.00 L383.50,593.42 L385.00,595.00 L388.00,588.00 L390.00,583.00 L392.00,589.00 L394.00,592.00 L395.50,594.24 L397.00,595.00 L398.50,592.20 L400.00,591.00 L401.50,593.03 L403.00,593.00 L405.00,596.00 L406.50,598.29 L408.00,599.00 L409.50,598.21 L411.00,596.00 L412.50,592.91 L414.00,592.00 L415.50,593.20 L417.00,596.00 L418.50,593.55 L420.00,593.00 L421.50,592.77 L423.00,591.00 L424.50,592.04 L426.00,595.00 L429.00,589.00 L431.00,573.00 L432.40,564.50 L434.00,573.00 L435.60,592.00 L438.00,590.00 L439.50,590.30 L441.00,592.00 L442.50,592.08 L444.00,590.00 L445.50,589.65 L447.00,591.00 L448.50,590.80 L450.00,592.00 L452.00,590.00 L454.00,593.00 L456.00,588.00 L458.00,594.00 L460.00,583.00 L462.00,588.00 L464.40,580.00 L466.00,552.00 L466.80,549.50 L468.00,560.00 L469.00,584.00 L471.00,592.00 L473.00,589.00 L475.00,585.00 L476.50,585.45 L478.00,588.00 L479.50,589.78 L481.00,590.00 L482.50,588.83 L484.00,589.00 L485.50,590.20 L487.00,593.00 L489.00,598.00 L491.00,592.00 L492.50,591.96 L494.00,594.00 L495.50,594.52 L497.00,593.00 L498.50,591.49 L500.00,592.00 L501.50,592.42 L503.00,591.00 L504.50,591.29 L506.00,590.00 L507.40,540.00 L508.40,509.50 L509.60,540.00 L510.60,584.00 L513.00,594.00 L514.50,595.86 L516.00,596.00 L519.00,590.00 L521.00,586.00 L523.60,592.00 L525.60,602.00 L528.00,594.00 L530.00,592.00 L532.00,600.00 L535.00,594.00 L536.50,594.29 L538.00,593.00 L539.50,594.18 L541.00,594.00 L542.50,592.73 L544.00,590.00 L546.40,582.50 L548.00,588.00 L550.00,596.00 L551.50,594.13 L553.00,594.00 L554.30,595.91 L555.60,596.00 L557.60,580.00 L558.80,570.50 L560.40,580.00 L562.00,593.00 L564.00,596.00 L566.00,595.00 L568.00,593.00 L570.00,594.00 L572.00,597.00 L574.00,598.00 L576.00,596.00 L578.00,599.00 L580.00,598.00 L582.00,600.00 L584.00,600.00 L586.00,598.00 L588.00,597.00 L590.00,599.00 L592.00,594.00 L594.00,596.00 L596.00,598.00 L598.00,597.00 L599.50,597.63 L601.00,599.60" stroke="#000" stroke-width="4" fill="none" stroke-linejoin="round" stroke-linecap="round"/>
<path d="M68.00,772.00 L70.00,771.99 L72.00,770.00 L74.00,770.17 L76.00,772.40 L78.00,770.75 L80.00,771.00 L81.50,769.29 L83.00,769.00 L85.00,772.54 L87.00,774.00 L88.50,773.90 L90.00,772.00 L91.50,772.13 L93.00,773.60 L94.50,773.16 L96.00,774.40 L97.50,770.64 L99.00,769.00 L101.00,770.00 L104.00,750.00 L107.00,732.50 L110.00,760.00 L113.00,771.00 L115.00,769.00 L118.00,779.00 L119.50,780.23 L121.00,780.00 L124.00,774.00 L126.00,771.28 L128.00,770.00 L131.00,776.00 L133.00,775.72 L135.00,774.00 L137.00,771.41 L139.00,771.00 L140.50,771.25 L142.00,773.00 L144.00,770.92 L146.00,771.00 L147.50,770.96 L149.00,773.00 L151.00,778.00 L152.50,776.80 L154.00,774.00 L156.00,773.60 L158.00,775.00 L160.00,773.76 L162.00,774.00 L164.00,773.71 L166.00,775.60 L167.50,775.09 L169.00,773.00 L172.00,779.00 L175.00,769.00 L177.00,768.84 L179.00,767.00 L180.50,768.52 L182.00,771.60 L183.50,773.09 L185.00,773.00 L186.50,772.58 L188.00,774.00 L190.00,773.19 L192.00,771.00 L193.50,773.52 L195.00,774.00 L196.50,775.47 L198.00,775.00 L200.00,775.13 L202.00,777.00 L203.50,774.81 L205.00,774.00 L206.50,773.42 L208.00,775.00 L209.50,776.03 L211.00,775.00 L212.50,775.10 L214.00,777.00 L215.50,776.32 L217.00,774.00 L218.50,772.14 L220.00,772.00 L221.50,771.57 L223.00,773.00 L224.50,771.29 L226.00,771.00 L227.50,771.43 L229.00,774.00 L230.50,772.81 L232.00,770.00 L233.50,771.55 L235.00,771.00 L236.50,771.00 L238.00,769.00 L239.50,768.58 L241.00,770.00 L242.50,770.04 L244.00,768.00 L246.00,757.00 L247.60,755.50 L249.20,759.00 L251.00,768.00 L252.50,766.15 L254.00,766.00 L255.50,766.25 L257.00,768.00 L258.50,769.56 L260.00,769.00 L261.50,768.78 L263.00,767.00 L264.50,765.70 L266.00,766.00 L267.50,765.29 L269.00,763.00 L270.50,764.06 L272.00,767.00 L273.50,768.10 L275.00,767.00 L276.50,765.52 L278.00,766.00 L279.50,764.91 L281.00,766.00 L282.50,766.17 L284.00,765.00 L285.50,765.02 L287.00,763.00 L288.50,766.45 L290.00,768.00 L291.50,765.82 L293.00,765.00 L294.50,763.49 L296.00,764.00 L297.50,765.03 L299.00,764.00 L300.50,763.91 L302.00,766.00 L303.50,765.06 L305.00,766.00 L306.50,765.71 L308.00,764.00 L309.50,765.32 L311.00,765.00 L312.50,763.47 L314.00,764.00 L315.50,764.22 L317.00,763.00 L318.50,760.41 L320.00,760.00 L322.00,759.00 L324.00,762.00 L326.00,761.00 L328.00,765.00 L330.00,760.00 L331.60,754.00 L333.00,726.00 L334.00,721.50 L335.20,726.00 L336.40,753.00 L338.40,759.00 L339.70,759.08 L341.00,757.00 L342.50,759.37 L344.00,760.00 L345.50,759.87 L347.00,758.00 L348.50,757.79 L350.00,759.00 L351.50,757.56 L353.00,758.00 L354.50,759.54 L356.00,759.00 L357.50,757.80 L359.00,758.00 L360.50,758.39 L362.00,757.00 L363.50,759.69 L365.00,761.00 L366.50,760.97 L368.00,759.00 L369.50,757.51 L371.00,758.00 L372.50,758.41 L374.00,757.00 L375.50,759.53 L377.00,760.00 L379.40,753.00 L380.70,756.50 L382.00,758.00 L383.50,759.08 L385.00,758.00 L387.00,740.00 L388.60,707.50 L390.00,712.00 L391.40,740.00 L393.00,758.00 L394.50,759.95 L396.00,760.00 L397.50,758.13 L399.00,758.00 L401.00,761.00 L403.00,767.00 L405.00,762.00 L406.50,761.30 L408.00,759.00 L409.50,758.36 L411.00,756.00 L412.50,758.31 L414.00,759.00 L415.50,758.48 L417.00,756.00 L418.50,757.81 L420.00,758.00 L422.00,762.00 L424.00,757.00 L425.50,757.96 L427.00,761.00 L428.50,761.59 L430.00,760.00 L431.40,746.00 L432.60,734.00 L434.00,738.00 L435.20,754.00 L436.60,754.89 L438.00,754.00 L439.50,755.25 L441.00,758.00 L442.50,761.07 L444.00,762.00 L445.50,760.78 L447.00,758.00 L448.50,757.62 L450.00,759.20 L451.75,758.79 L453.50,756.90 L455.25,758.24 L457.00,758.00 L458.75,757.23 L460.50,754.50 L462.25,754.95 L464.00,756.90 L465.75,759.58 L467.50,760.40 L469.25,758.44 L471.00,758.00 L473.40,755.70 L475.00,749.20 L476.40,753.40 L478.00,759.20 L480.40,754.50 L482.15,755.31 L483.90,758.00 L485.65,756.36 L487.40,756.90 L489.15,757.92 L490.90,760.40 L492.65,758.49 L494.40,758.00 L496.15,759.48 L497.90,762.70 L499.65,760.11 L501.40,759.20 L503.15,759.43 L504.90,758.00 L506.65,755.93 L508.40,755.70 L509.80,757.07 L511.20,760.40 L513.50,758.00 L515.40,747.50 L517.30,749.90 L518.90,759.20 L520.65,759.26 L522.40,758.00 L524.15,760.83 L525.90,761.50 L527.65,760.79 L529.40,758.00 L531.15,759.68 L532.90,759.20 L534.65,760.50 L536.40,760.40 L538.15,760.88 L539.90,759.20 L541.65,759.68 L543.40,758.00 L545.30,749.90 L546.70,748.20 L548.10,755.70 L550.40,760.40 L552.15,760.71 L553.90,762.70 L555.65,761.82 L557.40,759.20 L559.20,757.68 L561.00,758.00 L562.75,759.68 L564.50,759.20 L566.25,760.02 L568.00,762.70 L569.75,763.12 L571.50,761.50 L573.25,761.87 L575.00,763.90 L576.75,763.06 L578.50,760.40 L580.25,759.00 L582.00,759.20 L583.75,759.45 L585.50,758.00 L587.25,758.32 L589.00,760.40 L590.75,760.89 L592.50,759.20 L594.25,761.18 L596.00,761.50 L597.75,761.78 L599.50,763.90 L601.80,762.70" stroke="#000" stroke-width="4" fill="none" stroke-linejoin="round" stroke-linecap="round"/>
<path d="M373.6,539 L389,575.6 M372.6,563 L389,575.6 L391.4,555.6" stroke="#000" stroke-width="2.6" fill="none" stroke-linejoin="round" stroke-linecap="round"/>
<path d="M416.4,514.4 L429,555.6 M414.4,541.6 L429,555.6 L433.4,536.4" stroke="#000" stroke-width="2.6" fill="none" stroke-linejoin="round" stroke-linecap="round"/>
<path d="M464,476 L465.4,534.4 M455.6,517 L465.4,534.4 L475.4,516.6" stroke="#000" stroke-width="2.6" fill="none" stroke-linejoin="round" stroke-linecap="round"/>
<path d="M546.4,550 L546.4,577 M536.6,559 L546.4,577 L556,559" stroke="#000" stroke-width="2.6" fill="none" stroke-linejoin="round" stroke-linecap="round"/>
<path d="M599,557 L572,577 M580,559.6 L572,577 L592,574.4" stroke="#000" stroke-width="2.6" fill="none" stroke-linejoin="round" stroke-linecap="round"/>
<path d="M474.3,712.3 L474.3,739.6 M464.4,721.7 L474.3,739.6 L484.3,721.7" stroke="#000" stroke-width="2.6" fill="none" stroke-linejoin="round" stroke-linecap="round"/>
<path d="M548,718.5 L520.2,738.8 M529,721 L520.2,738.8 L539.8,737" stroke="#000" stroke-width="2.6" fill="none" stroke-linejoin="round" stroke-linecap="round"/>
<text x="313.1" y="554.9" font-size="23.6" text-anchor="start" >AB</text>
<text x="344.2" y="525.2" font-size="23.6" text-anchor="start" >TB</text>
<text x="383.6" y="500.8" font-size="23.6" text-anchor="start" >ABA</text>
<text x="432" y="465.7" font-size="23.6" text-anchor="start" >ABAB</text>
<text x="483.8" y="494.4" font-size="23.6" text-anchor="start" >ABTB</text>
<text x="520.1" y="537" font-size="23.6" text-anchor="start" >TBTB</text>
<text x="609.9" y="554.6" font-size="23.6" text-anchor="start" >ABABT</text>
<text x="620" y="600.6" font-size="23.6" text-anchor="start" >1h</text>
<text x="241" y="742.9" font-size="23.6" text-anchor="start" >A</text>
<text x="453.7" y="703.8" font-size="23.6" text-anchor="start" >ABT</text>
<text x="548.8" y="717.6" font-size="23.6" text-anchor="start" >TBT</text>
<text x="623" y="764" font-size="23.6" text-anchor="start" >4h</text>
<path d="M54.08,372.81 H59.35 V376.20 H54.08 Z M61.60,372.81 H66.12 V376.20 H61.60 Z" fill="#fff"/>
<path d="M168.88,372.81 H174.15 V376.20 H168.88 Z M176.40,372.81 H180.92 V376.20 H176.40 Z" fill="#fff"/>
<path d="M283.68,372.81 H288.95 V376.20 H283.68 Z M291.20,372.81 H295.72 V376.20 H291.20 Z" fill="#fff"/>
<path d="M398.38,372.81 H403.65 V376.20 H398.38 Z M405.90,372.81 H410.42 V376.20 H405.90 Z" fill="#fff"/>
<path d="M513.08,372.81 H518.35 V376.20 H513.08 Z M520.60,372.81 H525.12 V376.20 H520.60 Z" fill="#fff"/>
<path d="M627.68,372.81 H632.95 V376.20 H627.68 Z M635.20,372.81 H639.72 V376.20 H635.20 Z" fill="#fff"/>
<path d="M271.25,881.81 H276.53 V885.20 H271.25 Z M278.78,881.81 H283.29 V885.20 H278.78 Z" fill="#fff"/>
<path d="M378.05,881.81 H383.33 V885.20 H378.05 Z M385.58,881.81 H390.09 V885.20 H385.58 Z" fill="#fff"/>
<path d="M111.58,531.81 H116.85 V535.20 H111.58 Z M119.10,531.81 H123.62 V535.20 H119.10 Z" fill="#fff"/>
<path d="M169.28,531.81 H174.56 V535.20 H169.28 Z M176.80,531.81 H181.32 V535.20 H176.80 Z" fill="#fff"/>
<path d="M620.58,598.81 H625.85 V602.20 H620.58 Z M628.10,598.81 H632.62 V602.20 H628.10 Z" fill="#fff"/>
</svg></body></html>
